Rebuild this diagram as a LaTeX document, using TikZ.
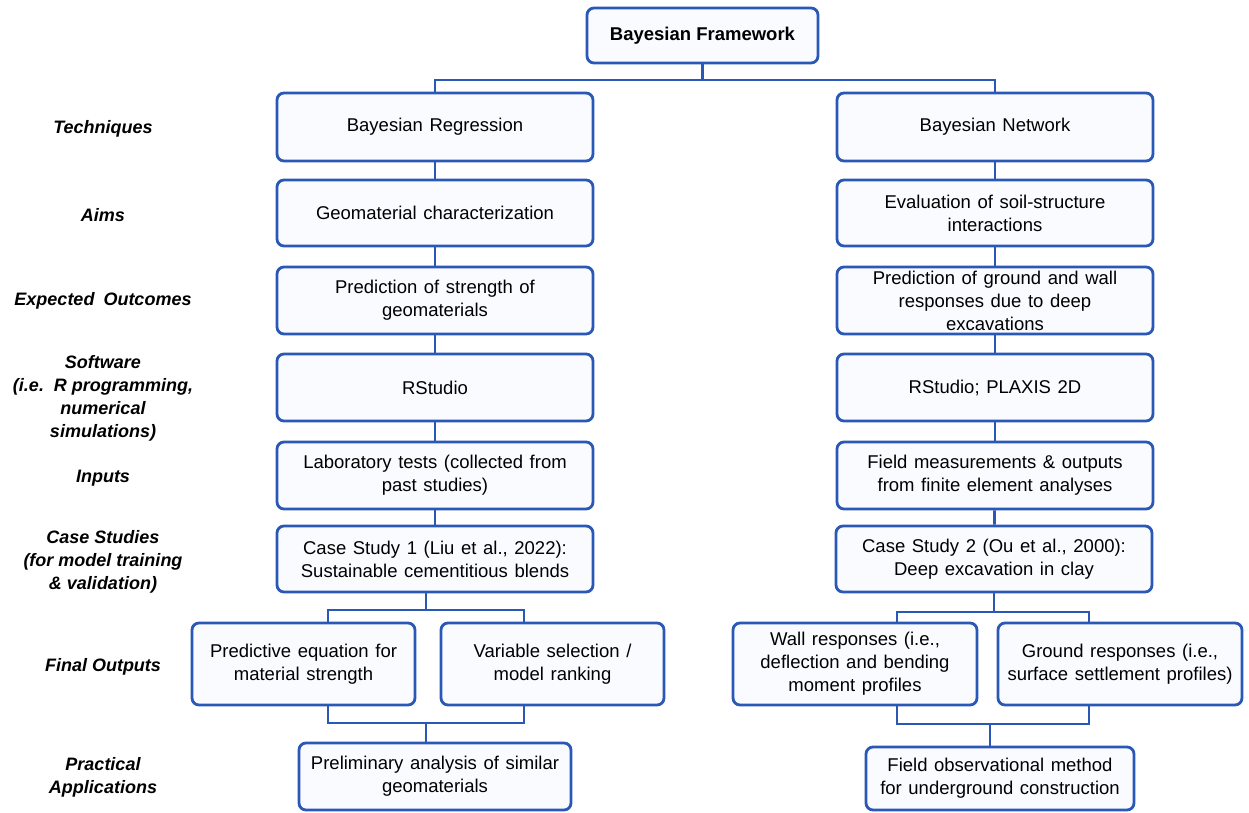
\documentclass[tikz,border=0pt]{standalone}
\usepackage{fontspec}
\setmainfont{Liberation Sans}
\definecolor{bblue}{RGB}{42,88,182}
\definecolor{bfill}{RGB}{250,251,255}
\newcommand\myboxfont{\fontsize{18.5}{23}\selectfont\spaceskip=6.6pt plus 2pt minus 1pt\relax}
\tikzset{
  box/.style={draw=bblue, line width=2.8pt, fill=bfill, rounded corners=7pt,
    align=center, inner sep=2pt, text=black, font=\myboxfont},
  lab/.style={align=center, font=\fontsize{18}{23}\selectfont\bfseries\itshape},
  conn/.style={draw=bblue, line width=2.8pt}
}
\begin{document}
\begin{tikzpicture}[x=1pt,y=-1pt]
\useasboundingbox (0,0) rectangle (1249,812);

% top
\node[box, font=\fontsize{18.5}{23}\selectfont\bfseries, minimum width=231pt, minimum height=55pt] (top) at (702.5,35.5) {Bayesian Framework};

% left column
\node[box, minimum width=316pt, minimum height=68pt] (L1) at (435,127) {Bayesian Regression};
\node[box, minimum width=316pt, minimum height=66pt] (L2) at (435,213) {Geomaterial characterization};
\node[box, minimum width=316pt, minimum height=67pt] (L3) at (435,300.5) {Prediction of strength of\\geomaterials};
\node[box, minimum width=316pt, minimum height=67pt] (L4) at (435,387.5) {RStudio};
\node[box, minimum width=316pt, minimum height=67pt] (L5) at (435,475.5) {Laboratory tests (collected from\\past studies)};
\node[box, minimum width=316pt, minimum height=66pt] (L6) at (435,559) {Case Study 1 (Liu et al., 2022):\\Sustainable cementitious blends};
\node[box, minimum width=223pt, minimum height=82pt] (L7a) at (303.5,664) {Predictive equation for\\material strength};
\node[box, minimum width=223pt, minimum height=82pt] (L7b) at (552.5,664) {Variable selection /\\model ranking};
\node[box, minimum width=272pt, minimum height=67pt] (L8) at (435,776.5) {Preliminary analysis of similar\\geomaterials};

% right column
\node[box, minimum width=316pt, minimum height=68pt] (R1) at (995,127) {Bayesian Network};
\node[box, minimum width=316pt, minimum height=66pt] (R2) at (995,213) {Evaluation of soil-structure\\interactions};
\node[box, minimum width=316pt, minimum height=67pt] (R3) at (995,300.5) {Prediction of ground and wall\\responses due to deep\\excavations};
\node[box, minimum width=316pt, minimum height=67pt] (R4) at (995,387.5) {RStudio; PLAXIS 2D};
\node[box, minimum width=316pt, minimum height=67pt] (R5) at (995,475.5) {Field measurements \& outputs\\from finite element analyses};
\node[box, minimum width=316pt, minimum height=66pt] (R6) at (994,559) {Case Study 2 (Ou et al., 2000):\\Deep excavation in clay};
\node[box, minimum width=244pt, minimum height=82pt] (R7a) at (855,664) {Wall responses (i.e.,\\deflection and bending\\moment profiles};
\node[box, minimum width=244pt, minimum height=82pt] (R7b) at (1120,664) {Ground responses (i.e.,\\surface settlement profiles)};
\node[box, minimum width=268pt, minimum height=63pt] (R8) at (1000,778.5) {Field observational method\\for underground construction};

% labels
\node[lab] (t1) at (103,129) {Techniques};
\node[lab] (t2) at (103,215) {Aims};
\node[lab] (t3) at (103,301) {Expected\enspace Outcomes};
\node[lab] (t4) at (103,398) {Software\\(i.e.\ \ R programming,\\numerical\\simulations)};
\node[lab] (t5) at (103,478) {Inputs};
\node[lab] (t6) at (103,562) {Case Studies\\(for model training\\\& validation)};
\node[lab] (t7) at (103,667) {Final Outputs};
\node[lab] (t8) at (103,777) {Practical\\Applications};

% connectors
\coordinate (tj) at (702.5,80);
\draw[conn] (top.south) -- (tj);
\draw[conn] (L1.north) |- (tj) -| (R1.north);

\draw[conn] (L1) -- (L2);
\draw[conn] (L2) -- (L3);
\draw[conn] (L3) -- (L4);
\draw[conn] (L4) -- (L5);
\draw[conn] (L5) -- (L6);
\draw[conn] (R1) -- (R2);
\draw[conn] (R2) -- (R3);
\draw[conn] (R3) -- (R4);
\draw[conn] (R4) -- (R5);
\draw[conn] (R5) -- (R6);

% left split / merge
\coordinate (ls) at (426,610);
\coordinate (lm) at (426,723);
\draw[conn] ([xshift=-9pt]L6.south) -- (ls);
\draw[conn] ([xshift=24.5pt]L7a.north) |- (ls) -| ([xshift=-28.5pt]L7b.north);
\draw[conn] ([xshift=24.5pt]L7a.south) |- (lm) -| ([xshift=-28.5pt]L7b.south);
\draw[conn] (lm) -- (lm |- L8.north);

% right split / merge
\coordinate (rs) at (994,612);
\coordinate (rm) at (990,724);
\draw[conn] (R6.south) -- (rs);
\draw[conn] ([xshift=42pt]R7a.north) |- (rs) -| ([xshift=-31pt]R7b.north);
\draw[conn] ([xshift=42pt]R7a.south) |- (rm) -| ([xshift=-31pt]R7b.south);
\draw[conn] (rm) -- (rm |- R8.north);
\end{tikzpicture}
\end{document}
